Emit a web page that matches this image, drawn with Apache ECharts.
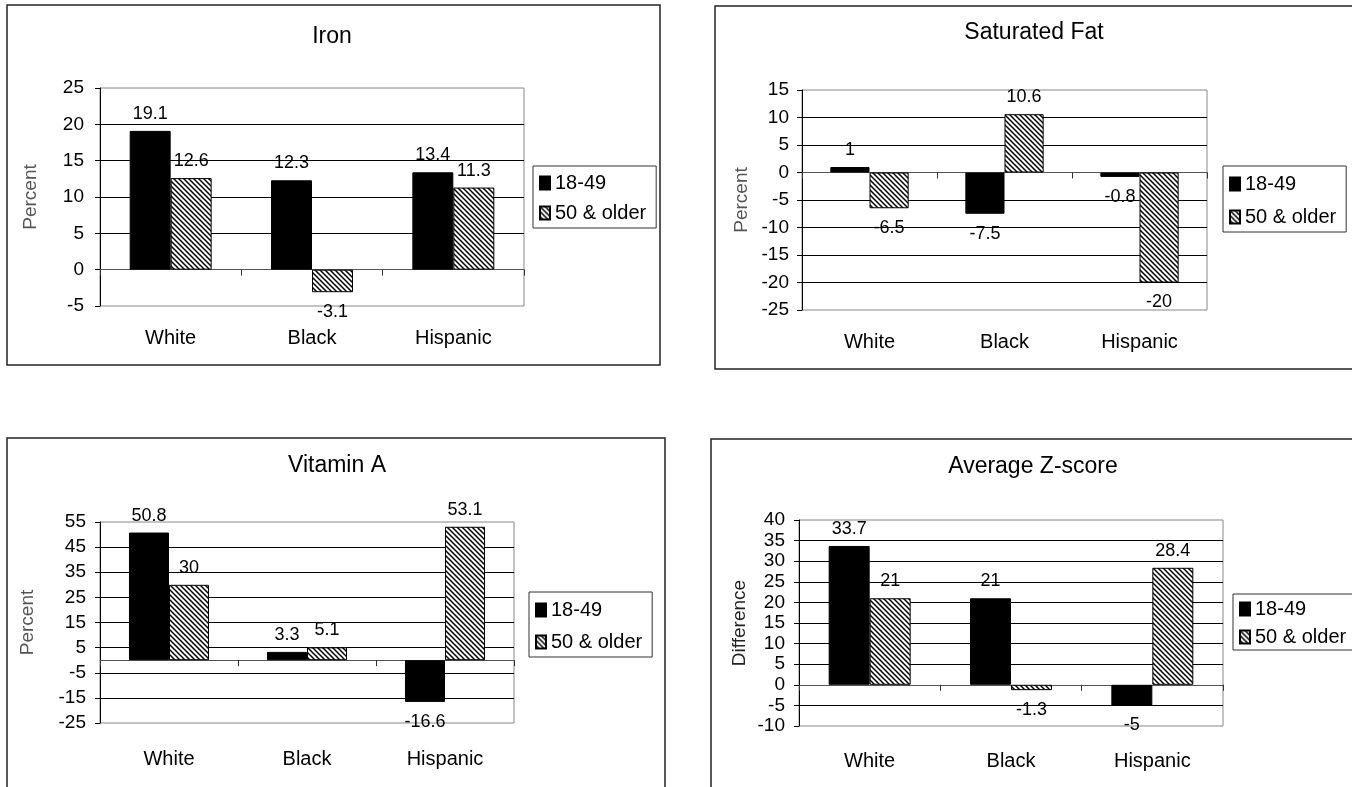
<!DOCTYPE html>
<html>
<head>
<meta charset="utf-8">
<script src="https://cdn.jsdelivr.net/npm/echarts@6/dist/echarts.min.js"></script>
<style>
html,body{margin:0;padding:0;background:#fff;}
#chart{width:1352px;height:787px;}
</style>
</head>
<body>
<div id="chart"></div>
<script>
// ---------- data ----------
const categories = ['White', 'Black', 'Hispanic'];
const seriesNames = ['18-49', '50 & older'];

const ironYoung = [19.1, 12.3, 13.4];
const ironOld = [12.6, -3.1, 11.3];

const fatYoung = [1, -7.5, -0.8];
const fatOld = [-6.5, 10.6, -20];

const vitAYoung = [50.8, 3.3, -16.6];
const vitAOld = [30, 5.1, 53.1];

const zYoung = [33.7, 21, -5];
const zOld = [21, -1.3, 28.4];

const titles = ['Iron', 'Saturated Fat', 'Vitamin A', 'Average Z-score'];
const yNames = ['Percent', 'Percent', 'Percent', 'Difference'];
const yMins = [-5, -25, -25, -10];
const yMaxs = [25, 15, 55, 40];
const yIntervals = [5, 5, 10, 5];

// ---------- layout ----------
const FONT = "'Liberation Sans', Arial, sans-serif";
const panels = [
  { young: ironYoung, old: ironOld, box: [7, 5, 653, 360], titlePos: [332, 37],
    grid: { left: 100, top: 88, width: 424, height: 218 }, nameGap: 60, nameColor: '#555', tickMargin: 16,
    legend: { left: 533, top: 166, padding: [7, 10, 5, 6], itemGap: 10 }, xMargin: 22 },
  { young: fatYoung, old: fatOld, box: [715, 6, 700, 363], titlePos: [1034, 33],
    grid: { left: 802, top: 90, width: 405, height: 220 }, nameGap: 51, nameColor: '#555', tickMargin: 13,
    legend: { left: 1223, top: 166, padding: [8, 10, 5, 6], itemGap: 13 }, xMargin: 22 },
  { young: vitAYoung, old: vitAOld, box: [7, 438, 658, 400], titlePos: [337, 466],
    grid: { left: 100, top: 522, width: 414, height: 201 }, nameGap: 63, nameColor: '#555', tickMargin: 14,
    legend: { left: 529, top: 592, padding: [8, 10, 5, 6], itemGap: 12 }, xMargin: 26 },
  { young: zYoung, old: zOld, box: [711, 439, 700, 400], titlePos: [1033, 467],
    grid: { left: 799, top: 520, width: 424, height: 206 }, nameGap: 50, nameColor: '#222', tickMargin: 14,
    legend: { left: 1233, top: 594, padding: [5, 10, 3, 6], itemGap: 8 }, xMargin: 25 }
];

function hatch() {
  const n = 5;
  const c = document.createElement('canvas');
  c.width = n; c.height = n;
  const g = c.getContext('2d');
  g.fillStyle = '#fff';
  g.fillRect(0, 0, n, n);
  g.strokeStyle = '#000';
  g.lineWidth = 1.5;
  g.beginPath();
  [-n, 0, n].forEach(function (k) {
    g.moveTo(-1, -1 + k);
    g.lineTo(n + 1, n + 1 + k);
  });
  g.stroke();
  return c;
}
const hatchFill = { image: hatch(), repeat: 'repeat' };

function withLabelDistance(values) {
  return values.map(function (v) {
    return { value: v, label: { distance: v < 0 ? 11 : 8 } };
  });
}

const option = {
  animation: false,
  backgroundColor: '#fff',
  textStyle: { fontFamily: FONT },
  title: [], grid: [], xAxis: [], yAxis: [], legend: [], series: [],
  graphic: []
};

panels.forEach(function (p, i) {
  option.graphic.push({
    type: 'rect', silent: true, z: -10,
    shape: { x: p.box[0], y: p.box[1], width: p.box[2], height: p.box[3] },
    style: { fill: 'none', stroke: '#222', lineWidth: 1.5 }
  });
  option.title.push({
    text: titles[i], left: p.titlePos[0], top: p.titlePos[1], padding: 0,
    textAlign: 'center', textVerticalAlign: 'middle',
    textStyle: { fontSize: 23, fontWeight: 'normal', color: '#000', fontFamily: FONT }
  });
  option.grid.push(Object.assign({ show: true, borderColor: '#888', borderWidth: 1, backgroundColor: 'transparent' }, p.grid));
  // category labels at the bottom of the plot
  option.xAxis.push({
    gridIndex: i, type: 'category', data: categories, position: 'bottom',
    axisLine: { show: false, onZero: false }, axisTick: { show: false },
    axisLabel: { fontSize: 20, color: '#000', margin: p.xMargin, fontFamily: FONT },
    splitLine: { show: false }
  });
  // zero line with boundary ticks
  option.xAxis.push({
    gridIndex: i, type: 'category', data: categories, position: 'top',
    axisLine: { show: true, onZero: true, lineStyle: { color: '#555', width: 1 } },
    axisTick: { show: true, inside: true, length: 6, lineStyle: { color: '#333' } },
    axisLabel: { show: false }, splitLine: { show: false }
  });
  option.yAxis.push({
    gridIndex: i, type: 'value', min: yMins[i], max: yMaxs[i], interval: yIntervals[i],
    name: yNames[i], nameLocation: 'middle', nameGap: p.nameGap,
    nameTextStyle: { fontSize: 19, color: p.nameColor, fontFamily: FONT },
    axisLine: { show: true, lineStyle: { color: '#000' } },
    axisTick: { show: true, length: 5, lineStyle: { color: '#000' } },
    axisLabel: { fontSize: 19, color: '#000', margin: p.tickMargin, fontFamily: FONT },
    splitLine: { show: true, showMinLine: false, showMaxLine: false, lineStyle: { color: '#000', width: 1 } }
  });
  option.legend.push(Object.assign({
    orient: 'vertical', data: seriesNames, icon: 'rect',
    itemWidth: 10, itemHeight: 13, selectedMode: false,
    borderColor: '#333', borderWidth: 1, backgroundColor: '#fff',
    textStyle: { fontSize: 20, color: '#000', fontFamily: FONT }
  }, p.legend));
  const labelCfg = { show: true, position: 'outside', fontSize: 18, color: '#000', fontFamily: FONT };
  option.series.push({
    type: 'bar', name: seriesNames[0], xAxisIndex: 2 * i, yAxisIndex: i, data: withLabelDistance(p.young),
    barGap: '0%', barCategoryGap: '42%',
    itemStyle: { color: '#000', borderColor: '#000', borderWidth: 1 },
    label: labelCfg
  });
  option.series.push({
    type: 'bar', name: seriesNames[1], xAxisIndex: 2 * i, yAxisIndex: i, data: withLabelDistance(p.old),
    barGap: '0%', barCategoryGap: '42%',
    itemStyle: { color: hatchFill, borderColor: '#000', borderWidth: 1 },
    label: labelCfg
  });
});

const chart = echarts.init(document.getElementById('chart'), null, { renderer: 'canvas' });
chart.setOption(option);
</script>
</body>
</html>
